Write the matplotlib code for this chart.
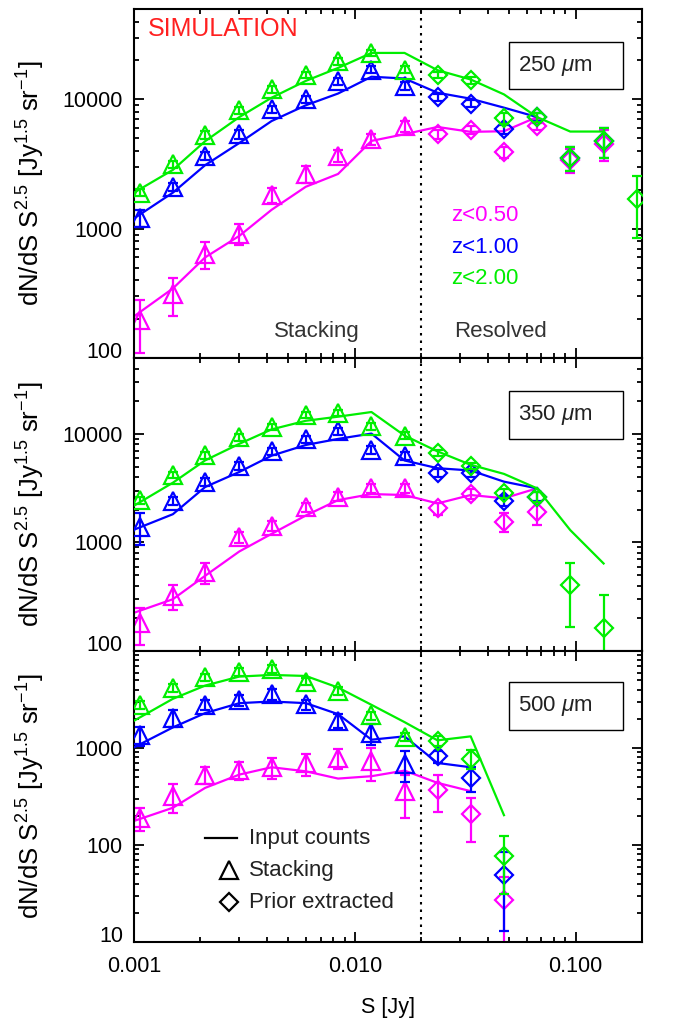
import numpy as np
import matplotlib
matplotlib.use('Agg')
import matplotlib.pyplot as plt
from matplotlib.ticker import FixedLocator, FixedFormatter, LogLocator, NullFormatter
from matplotlib.patches import Rectangle

plt.rcParams['font.family'] = ['Liberation Sans', 'DejaVu Sans']
plt.rcParams['mathtext.fontset'] = 'custom'
plt.rcParams['mathtext.rm'] = 'Liberation Sans'
plt.rcParams['mathtext.it'] = 'Liberation Sans:italic'
plt.rcParams['mathtext.default'] = 'regular'

# ---------------- data ----------------
S_bins = [0.00106, 0.0015, 0.0021, 0.0030, 0.0042, 0.0060, 0.0084, 0.0119, 0.0168,
          0.0237, 0.0335, 0.0474, 0.0669, 0.0946, 0.134, 0.189]
S_line = [0.001, 0.0015, 0.0021, 0.0030, 0.0042, 0.0060, 0.0084, 0.0119, 0.0168,
          0.0237, 0.0335, 0.0474, 0.0669, 0.0946, 0.134]
S_cut = 0.02

# 250 micron
line250_z05 = [210, 345, 600, 880, 1400, 2110, 2650, 4775, 5380, 6120, 5610, 5670, 7300]
line250_z10 = [1200, 1900, 3100, 4600, 6800, 9000, 11100, 14970, 14500, 11260, 10120, 8630, 7300]
line250_z20 = [1900, 2850, 4750, 7300, 10300, 13900, 17500, 22870, 22870, 16820, 14250, 10930, 7300, 5640, 5640]
stack250_z05 = [195, 312, 635, 914, 1820, 2650, 3660, 4920, 6240]
stack250_z10 = [1215, 2100, 3640, 5360, 8370, 10000, 13800, 17000, 12800]
stack250_z20 = [1900, 3150, 5300, 8250, 12000, 15500, 19700, 22800, 17000]
stackerr250_z05 = [85, 100, 150, 165, 240, 400, 400, 450, 600]
stackerr250_z10 = [180, 150, 250, 400, 550, 700, 900, 1100, 900]
stackerr250_z20 = [120, 200, 350, 500, 700, 900, 1100, 1300, 1000]
prior250_z05 = [5380, 5780, 3890, 6200, 3400, 4550]
prior250_z10 = [10400, 9260, 5870, 7300, 3550, 4750]
prior250_z20 = [15500, 14000, 7150, 7300, 3550, 4750, 1700]
priorerr250_z05 = [400, 400, 400, 400, 700, 1200]
priorerr250_z10 = [700, 600, 500, 500, 760, 1250]
priorerr250_z20 = [900, 800, 700, 600, 760, 1250, 860]

# 350 micron
line350_z05 = [225, 300, 493, 826, 1200, 1770, 2455, 2790, 2735, 2287, 2735, 2550, 3150]
line350_z10 = [1310, 1820, 3240, 4460, 6300, 7900, 8990, 10070, 5690, 4830, 4600, 3630, 3150]
line350_z20 = [2180, 3550, 5700, 8100, 11000, 13200, 14400, 15900, 9650, 6900, 5190, 4280, 3150, 1300, 640]
stack350_z05 = [182, 322, 530, 1125, 1420, 2120, 2640, 3150, 3150]
stack350_z10 = [1400, 2420, 3610, 5090, 6900, 8900, 10590, 7140, 6290]
stack350_z20 = [2440, 4200, 6370, 9280, 11650, 14940, 15670, 11790, 9650]
stackerr350_z05 = [68, 85, 120, 130, 150, 200, 250, 300, 300]
stackerr350_z10 = [450, 200, 280, 400, 550, 650, 800, 600, 500]
stackerr350_z20 = [200, 300, 450, 650, 800, 1000, 1100, 900, 700]
prior350_z05 = [2056, 2790, 1550, 1910]
prior350_z10 = [4350, 4350, 2400, 2640]
prior350_z20 = [6660, 5080, 2830, 2640, 405, 163]
priorerr350_z05 = [250, 300, 300, 460]
priorerr350_z10 = [350, 350, 250, 250]
priorerr350_z20 = [400, 350, 250, 300, 240, 165]

# 500 micron
line500_z05 = [177, 242, 388, 532, 633, 575, 484, 512, 585, 437, 359]
line500_z10 = [1016, 1630, 2290, 2900, 3015, 2900, 2234, 1218, 1318, 701, 633]
line500_z20 = [1910, 3214, 4400, 5450, 5665, 5530, 4200, 2787, 1849, 1199, 1318, 203]
stack500_z05 = [188, 320, 532, 590, 635, 693, 795, 730, 359]
stack500_z10 = [1349, 2050, 2787, 3140, 3590, 2810, 1915, 1426, 685]
stack500_z20 = [2800, 4160, 5380, 6140, 6540, 4840, 3880, 2166, 1298]
stackerr500_z05 = [50, 105, 105, 120, 160, 180, 190, 270, 170]
stackerr500_z10 = [300, 400, 350, 400, 450, 350, 300, 360, 240]
stackerr500_z20 = [250, 370, 480, 550, 590, 430, 350, 200, 120]
prior500_z05 = [373, 207, 27]
prior500_z10 = [821, 492, 49]
prior500_z20 = [1190, 777, 77]
priorerr500_z05 = [155, 100, 20]
priorerr500_z10 = [120, 140, 36]
priorerr500_z20 = [150, 170, 46]

z_labels = ['z<0.50', 'z<1.00', 'z<2.00']
colors = ['#ff00ff', '#0000ff', '#00ee00']
bands = [r'250 $\mathit{\mu}$m', r'350 $\mathit{\mu}$m', r'500 $\mathit{\mu}$m']

panels = [
    dict(lines=[line250_z05, line250_z10, line250_z20],
         stack=[stack250_z05, stack250_z10, stack250_z20],
         stackerr=[stackerr250_z05, stackerr250_z10, stackerr250_z20],
         prior=[prior250_z05, prior250_z10, prior250_z20],
         priorerr=[priorerr250_z05, priorerr250_z10, priorerr250_z20],
         ylim=(100, 50000), yticks=[100, 1000, 10000], ylabels=['100', '1000', '10000']),
    dict(lines=[line350_z05, line350_z10, line350_z20],
         stack=[stack350_z05, stack350_z10, stack350_z20],
         stackerr=[stackerr350_z05, stackerr350_z10, stackerr350_z20],
         prior=[prior350_z05, prior350_z10, prior350_z20],
         priorerr=[priorerr350_z05, priorerr350_z10, priorerr350_z20],
         ylim=(100, 50000), yticks=[100, 1000, 10000], ylabels=['100', '1000', '10000']),
    dict(lines=[line500_z05, line500_z10, line500_z20],
         stack=[stack500_z05, stack500_z10, stack500_z20],
         stackerr=[stackerr500_z05, stackerr500_z10, stackerr500_z20],
         prior=[prior500_z05, prior500_z10, prior500_z20],
         priorerr=[priorerr500_z05, priorerr500_z10, priorerr500_z20],
         ylim=(10, 10000), yticks=[10, 100, 1000], ylabels=['10', '100', '1000']),
]

# ---------------- figure ----------------
W, H = 675, 1021
fig = plt.figure(figsize=(W / 100, H / 100), dpi=100)
left, right = 134, 642
rows = [(9, 358), (358, 651), (651, 942)]
box_y = [(42, 89), (391, 439), (682, 730)]

FS = 16
ylab = r'dN/dS S$^{2.5}$ [Jy$^{1.5}$ sr$^{-1}$]'

def asym(vals, errs):
    lo = [min(e, 0.98 * v) for v, e in zip(vals, errs)]
    return [lo, list(errs)]

axes = []
for k, (p, (top, bot)) in enumerate(zip(panels, rows)):
    ax = fig.add_axes([left / W, 1 - bot / H, (right - left) / W, (bot - top) / H])
    axes.append(ax)
    ax.set_xscale('log')
    ax.set_yscale('log')
    ax.set_xlim(0.001, 0.2)
    ax.set_ylim(*p['ylim'])
    for i in range(3):
        c = colors[i]
        ln = p['lines'][i]
        ax.plot(S_line[:len(ln)], ln, color=c, lw=1.6, zorder=2 + i)
        st = p['stack'][i]
        ax.errorbar(S_bins[:len(st)], st, yerr=asym(st, p['stackerr'][i]), fmt='^',
                    ms=13, mfc='none', mec=c, mew=1.6, ecolor=c, elinewidth=1.6,
                    capsize=3.5, capthick=1.6, zorder=2 + i)
        pr = p['prior'][i]
        ax.errorbar(S_bins[9:9 + len(pr)], pr, yerr=asym(pr, p['priorerr'][i]), fmt='D',
                    ms=9.5, mfc='none', mec=c, mew=1.6, ecolor=c, elinewidth=1.6,
                    capsize=3.5, capthick=1.6, zorder=2 + i)
    ax.axvline(S_cut, color='k', ls=(0, (1.2, 2.4)), lw=1.5, zorder=1)

    # ticks
    ax.xaxis.set_major_locator(FixedLocator([0.001, 0.01, 0.1]))
    ax.xaxis.set_minor_locator(LogLocator(base=10, subs=np.arange(2, 10)))
    ax.xaxis.set_minor_formatter(NullFormatter())
    if k == 2:
        ax.xaxis.set_major_formatter(FixedFormatter(['0.001', '0.010', '0.100']))
    else:
        ax.xaxis.set_major_formatter(NullFormatter())
    ax.yaxis.set_major_locator(FixedLocator(p['yticks']))
    ax.yaxis.set_major_formatter(FixedFormatter(p['ylabels']))
    ax.yaxis.set_minor_locator(LogLocator(base=10, subs=np.arange(2, 10)))
    ax.yaxis.set_minor_formatter(NullFormatter())
    ax.tick_params(which='both', direction='in', top=True, right=True, width=1.3,
                   labelsize=15.5, colors='k')
    ax.tick_params(which='major', length=7)
    ax.tick_params(which='minor', length=3.5)
    ax.tick_params(axis='y', pad=8)
    ax.tick_params(axis='x', pad=10)
    for s in ax.spines.values():
        s.set_linewidth(1.5)
    ylbls = ax.yaxis.get_majorticklabels()
    ylbls[0].set_verticalalignment('baseline')

    ax.set_ylabel(ylab, fontsize=18.5)
    ax.yaxis.set_label_coords(-0.172, 0.5)

    # band box
    by0, by1 = box_y[k]
    h = bot - top
    ax.add_patch(Rectangle(((509 - left) / 508, 1 - (by1 - top) / h), 114 / 508, (by1 - by0) / h,
                           transform=ax.transAxes, fill=False, ec='k', lw=1.0, zorder=6))
    ax.text((518 - left) / 508, 1 - ((by0 + by1) / 2 - top) / h, bands[k], transform=ax.transAxes,
            ha='left', va='center', fontsize=FS, color='#222222', zorder=7)

ax1, ax2, ax3 = axes
ax1.text((148 - left) / 508, 1 - (29 - 9) / 349, 'SIMULATION', transform=ax1.transAxes,
         color='#ff2020', fontsize=18, ha='left', va='center')
for i, yy in enumerate([215, 247, 278]):
    ax1.text((451 - left) / 508, 1 - (yy - 9) / 349, z_labels[i], transform=ax1.transAxes,
             color=colors[i], fontsize=FS, ha='left', va='center')
ax1.text((317 - left) / 508, 1 - (331 - 9) / 349, 'Stacking', transform=ax1.transAxes,
         color='#333333', fontsize=FS, ha='center', va='center')
ax1.text((500 - left) / 508, 1 - (331 - 9) / 349, 'Resolved', transform=ax1.transAxes,
         color='#333333', fontsize=FS, ha='center', va='center')

ax3.set_xlabel('S [Jy]', fontsize=15.5)
ax3.xaxis.set_label_coords(0.5, -0.19)

# legend (manual)
hh = 291
lx0, lx1 = (205 - left) / 508, (237 - left) / 508
ly = [1 - (838 - 651) / hh, 1 - (870 - 651) / hh, 1 - (902 - 651) / hh]
ax3.plot([lx0, lx1], [ly[0], ly[0]], color='k', lw=1.6, transform=ax3.transAxes)
ax3.plot([(229 - left) / 508], [ly[1]], marker='^', ms=13, mfc='none', mec='k', mew=1.6,
         transform=ax3.transAxes, ls='none')
ax3.plot([(229 - left) / 508], [ly[2]], marker='D', ms=9.5, mfc='none', mec='k', mew=1.6,
         transform=ax3.transAxes, ls='none')
for t, yy in zip(['Input counts', 'Stacking', 'Prior extracted'], ly):
    ax3.text((249 - left) / 508, yy, t, transform=ax3.transAxes, fontsize=FS,
             ha='left', va='center', color='#222222')

fig.savefig('out.png', dpi=100)
